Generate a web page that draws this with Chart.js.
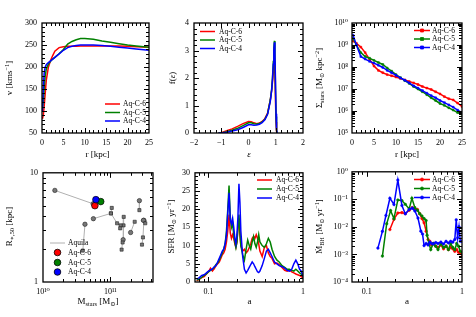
<!DOCTYPE html>
<html>
<head>
<meta charset="utf-8">
<script src="https://cdn.jsdelivr.net/npm/chart.js@4.4.1/dist/chart.umd.min.js"></script>
<style>
  body { margin: 0; background: #fff; width: 476px; height: 317px; position: relative; overflow: hidden; }
  canvas { position: absolute; }
</style>
</head>
<body>
<canvas id="p1"></canvas><canvas id="p2"></canvas><canvas id="p3"></canvas>
<canvas id="p4"></canvas><canvas id="p5"></canvas><canvas id="p6"></canvas>
<script>
// ---- colours / labels
const RED = '#ff0000', GREEN = '#008000', BLUE = '#0000ff';
const runs = ['Aq-C-6', 'Aq-C-5', 'Aq-C-4'];

// ---- panel 1: rotation curve v(r)
const rotR  = [0.1,0.3,0.5,0.75,1,1.5,2,2.5,3,4,5,6,7,8,9,10,12,14,16,18,20,22,25];
const rotC6 = [82,90,110,140,170,200,215,226,236,244,246,247,247,247,247.5,248,248,248,248,247.5,247,246,245];
const rotC5 = [105,120,150,180,195,207,213,218,222,230,240,252,258,262,264.5,265,263,259,256,253,250,248,245];
const rotC4 = [100,150,185,200,205,210,214,218,222,230,238,244,247,249,250,250,250,249,247,245,243,241,238];

// ---- panel 2: circularity distribution f(eps)
const circEps = [-1.1,-1,-0.8,-0.6,-0.4,-0.2,0,0.1,0.2,0.3,0.4,0.5,0.6,0.7,0.8,0.85,0.88,0.91,0.93,0.95,0.97,0.99,1.01,1.03,1.05];
const circC6 = [0,0.01,0.08,0.15,0.24,0.34,0.42,0.41,0.37,0.34,0.36,0.42,0.52,0.72,1.2,1.55,1.85,2.2,2.5,2.6,2.2,1.2,0.4,0.05,0];
const circC5 = [0,0.005,0.05,0.1,0.17,0.27,0.37,0.37,0.34,0.33,0.35,0.4,0.5,0.7,1.2,1.6,2.0,2.6,3.1,3.35,2.8,1.6,0.6,0.1,0];
const circC4 = [0,0,0.03,0.07,0.12,0.2,0.3,0.3,0.28,0.29,0.32,0.38,0.48,0.68,1.15,1.55,1.95,2.5,3.0,3.3,2.9,1.9,0.7,0.1,0];

// ---- panel 3: stellar surface density
const sdR  = [0.25,1,2,3,4,5,6,7,8,9,10,11,12,13,14,15,16,17,18,19,20,21,22,23,24,25];
const sdC6 = [1.5e9,1.2e9,8e8,4.5e8,2.2e8,1.1e8,7e7,5.5e7,4.5e7,4e7,3.5e7,3e7,2.6e7,2.2e7,1.9e7,1.6e7,1.3e7,1.1e7,9.5e6,7.5e6,6e6,4.5e6,3.6e6,3.2e6,2.3e6,1.6e6];
const sdC5 = [2e9,1e9,4.5e8,3e8,2.5e8,2e8,1.6e8,1.3e8,9e7,6.5e7,4.5e7,3.3e7,2.4e7,1.8e7,1.3e7,1e7,7.5e6,5.5e6,4e6,3e6,2.2e6,1.8e6,1.4e6,1.1e6,8.5e5,7e5];
const sdC4 = [2.8e9,1e9,3e8,2.3e8,1.8e8,1.5e8,1.2e8,9.5e7,7e7,5.5e7,4.2e7,3.2e7,2.5e7,1.9e7,1.4e7,1.1e7,8.5e6,6.5e6,5e6,4e6,3e6,2.4e6,1.9e6,1.5e6,1.1e6,8.5e5];

// ---- panel 4: half-mass radius vs stellar mass (Aquila comparison, grouped)
const aqMass = [[1.5e10,5.55e10],[5.6e10,1.02e11,1.05e11],[1.02e11,1.26e11,1.42e11,1.4e11],[4.2e10,3.9e10],
                [1.58e11,1.57e11,1.55e11,1.52e11,1.47e11],[2.0e11,2.3e11],[2.7e11,2.7e11],[3.1e11,3.3e11],[3.15e11,3.05e11,2.95e11]];
const aqR50  = [[6.9,5.2],[3.8,4.25,4.77],[4.25,3.45,3.3,3.1],[3.38,1.94],
                [3.95,3.3,2.44,2.3,1.98],[2.84,3.56],[5.56,4.55],[3.67,3.45],[3.67,2.56,2.2]];
const aqShape = [['circle','circle'],['circle','rect','rect'],['rect','rect','rect','rect'],['circle','rect'],
                 ['rect','rect','circle','rect','rect'],['circle','rect'],['circle','rect'],['circle','rect'],['circle','rect','rect']];
const simMass = [5.9e10, 7.2e10, 6.1e10];
const simR50  = [5.0, 5.45, 5.68];

// ---- panel 5: star formation rate vs scale factor
const sfrA  = [0.075,0.08,0.085,0.09,0.095,0.1,0.105,0.11,0.115,0.12,0.125,0.13,0.135,0.14,0.145,0.15,0.155,0.16,0.165,0.17,0.175,0.18,0.185,0.19,0.195,0.2,0.205,0.21,0.215,0.22,0.23,0.24,0.25,0.26,0.27,0.28,0.29,0.3,0.31,0.32,0.33,0.34,0.35,0.37,0.39,0.41,0.43,0.45,0.47,0.5,0.53,0.56,0.6,0.64,0.68,0.72,0.76,0.8,0.84,0.88,0.92,0.96,1.0];
const sfrC6 = [0.3,0.8,1.2,1.5,2.2,2.8,3.8,3.0,3.6,4.5,5.0,5.5,6.5,7.5,8.0,9.0,11,14,18.5,13.5,12,13,12,10.5,9.5,11,15,17.5,13,10,8.5,9,8,8.5,9.5,10.5,12,12.5,12,13,12,10.5,8.5,7,9.5,10,8,7,6.5,5,5.2,4.8,4,3.2,3,3.3,2.8,2.5,2.2,2,1.8,1.5,1];
const sfrC5 = [0.5,0.8,1.3,1.8,2.2,2.8,3.2,3.5,4,4.8,5.2,6,7,8,9,10.5,14,20,26.5,18,15,16,13,11,9.5,11,15,18.5,14,10,7.5,6,9,11.5,10,9,11,12.5,10.5,9.5,11,13,11,10,9.5,10.5,12,11,9,7,6,5.5,4.5,4,3.5,3.5,3.2,3,3.5,3,2.5,2.2,1.5];
const sfrC4 = [0.8,1.2,1.8,2,2.5,3,3.3,3.6,4.2,4.5,5.5,6.5,7.5,8.5,9,10.5,13,19,24.5,17,16,17.5,15,12,10.5,13,18,27,22,14,7,3.5,2.5,3.2,4,4.8,5.5,5,4.2,3.5,2.8,2.6,3,4.5,6.5,8.5,9,8,7,5.5,5,4.5,4.2,3.8,3.2,3,3.5,5,6,5,3.5,3,1.5];

// ---- panel 6: black hole accretion rate
const bhA6 = [0.175,0.193,0.212,0.234,0.254,0.279,0.3,0.32,0.34,0.36,0.38,0.4,0.42,0.44,0.46,0.48,0.5,0.53,0.56,0.6,0.64,0.68,0.72,0.76,0.8,0.84,0.88,0.92,0.96,1.0];
const bhC6 = [0.008,0.019,0.032,0.033,0.03,0.04,0.05,0.045,0.043,0.03,0.02,0.014,0.007,0.0035,0.003,0.0022,0.0025,0.002,0.0018,0.0022,0.0016,0.002,0.0015,0.0018,0.0016,0.0013,0.0015,0.0012,0.0011,0.001];
const bhA5 = [0.146,0.162,0.178,0.193,0.212,0.234,0.254,0.279,0.298,0.32,0.34,0.36,0.38,0.4,0.42,0.43,0.45,0.47,0.5,0.53,0.56,0.6,0.64,0.68,0.72,0.76,0.8,0.84,0.88,0.92,0.96,1.0];
const bhC5 = [0.00087,0.013,0.039,0.02,0.095,0.09,0.066,0.045,0.11,0.05,0.04,0.03,0.025,0.02,0.017,0.005,0.0025,0.0015,0.0025,0.002,0.0015,0.0025,0.0018,0.002,0.0015,0.0025,0.0018,0.0015,0.0025,0.002,0.0013,0.0012];
const bhA4 = [0.131,0.146,0.159,0.175,0.193,0.212,0.234,0.254,0.279,0.3,0.32,0.345,0.37,0.385,0.4,0.42,0.44,0.46,0.48,0.5,0.53,0.56,0.6,0.64,0.68,0.72,0.76,0.8,0.84,0.87,0.9,0.93,0.96,1.0];
const bhC4 = [0.0017,0.0069,0.026,0.11,0.065,0.5,0.06,0.03,0.043,0.048,0.038,0.021,0.007,0.0055,0.0021,0.0025,0.0022,0.0028,0.0025,0.0024,0.0027,0.0025,0.0028,0.0024,0.003,0.0026,0.003,0.0028,0.0035,0.018,0.004,0.01,0.003,0.003];

// ---------------------------------------------------------------
const FONT = '"Liberation Serif", "DejaVu Serif", serif';
const panels = {};

const range = (a, b, s) => { let r = []; for (let v = a; v <= b + 1e-9; v += s) r.push(+v.toFixed(6)); return r; };
const logMinor = (e0, e1) => { let r = []; for (let e = e0; e < e1; e++) for (let k = 2; k < 10; k++) r.push(k * Math.pow(10, e)); return r; };
const decades = (e0, e1) => range(e0, e1, 1).map(e => Math.pow(10, e));
const supStr = s => String(s).replace(/[-0-9]/g, c => '⁻⁰¹²³⁴⁵⁶⁷⁸⁹'['-0123456789'.indexOf(c)]);
const pow10 = v => '10' + supStr(Math.round(Math.log10(v)));
const minus = v => v < 0 ? '−' + Math.abs(v) : '' + v;

function rich(ctx, segs, x, y, size, rot) {
  ctx.save();
  ctx.translate(x, y);
  if (rot) ctx.rotate(rot);
  const fontOf = m => (m === 'it' ? 'italic ' + size : (m ? size * 0.7 : size)) + 'px ' + FONT;
  let w = 0;
  const parts = segs.map(([t, m]) => {
    ctx.font = fontOf(m);
    const pw = ctx.measureText(t).width;
    w += pw;
    return { t, m, pw };
  });
  let cx = -w / 2;
  ctx.textBaseline = 'middle';
  ctx.fillStyle = '#000';
  for (const p of parts) {
    ctx.font = fontOf(p.m);
    const dy = p.m === 'sub' ? size * 0.28 : p.m === 'sup' ? -size * 0.33 : 0;
    ctx.fillText(p.t, cx, dy);
    cx += p.pw;
  }
  ctx.restore();
}

function marker(ctx, style, x, y, r, fill, edge) {
  ctx.beginPath();
  if (style === 'rect') ctx.rect(x - r, y - r, 2 * r, 2 * r);
  else ctx.arc(x, y, r, 0, Math.PI * 2);
  ctx.fillStyle = fill; ctx.fill();
  ctx.lineWidth = 0.8; ctx.strokeStyle = edge; ctx.stroke();
}

// frame with inward ticks on all sides, titles and an inside legend
const deco = {
  id: 'deco',
  afterDraw(chart) {
    const d = panels[chart.canvas.id];
    const { ctx, chartArea: a, scales } = chart;
    const bx = d.box.x, by = d.box.y;
    ctx.save();
    ctx.strokeStyle = '#000';
    ctx.lineWidth = 1.3;
    ctx.strokeRect(a.left, a.top, a.right - a.left, a.bottom - a.top);
    ctx.fillStyle = '#000';
    const tk = (vals, len, axis) => {
      vals.forEach(v => {
        const p = Math.round(scales[axis].getPixelForValue(v));
        if (axis === 'x') {
          if (p < a.left + 1 || p > a.right - 1) return;
          ctx.fillRect(p, a.bottom - len, 1, len);
          ctx.fillRect(p, a.top, 1, len);
        } else {
          if (p < a.top + 1 || p > a.bottom - 1) return;
          ctx.fillRect(a.left, p, len, 1);
          ctx.fillRect(a.right - len, p, len, 1);
        }
      });
    };
    tk(d.xMajor, 5, 'x'); tk(d.xMinor, 3, 'x');
    tk(d.yMajor, 5, 'y'); tk(d.yMinor, 3, 'y');
    ctx.restore();

    rich(ctx, d.xTitle, d.xTitlePos[0] - bx, d.xTitlePos[1] - by, 9, 0);
    rich(ctx, d.yTitle, d.yTitlePos[0] - bx, d.yTitlePos[1] - by, 9, -Math.PI / 2);

    const L = d.legend;
    ctx.save();
    ctx.font = '7.5px ' + FONT;
    ctx.textBaseline = 'middle';
    L.items.forEach((idx, i) => {
      const ds = chart.data.datasets[idx];
      const y = L.ys[i] - by, x0 = L.x0 - bx, x1 = L.x1 - bx;
      if (ds.legendKind !== 'dot') {
        ctx.beginPath(); ctx.moveTo(x0, y); ctx.lineTo(x1, y);
        ctx.strokeStyle = ds.borderColor; ctx.lineWidth = ds.legendWidth || ds.borderWidth; ctx.stroke();
      }
      if (ds.legendKind === 'mark') {
        marker(ctx, ds.pointStyle, (x0 + x1) / 2, y, 1.5, ds.borderColor, ds.borderColor);
      }
      if (ds.legendKind === 'dot') {
        marker(ctx, 'circle', (x0 + x1) / 2, y, 3.3, ds.backgroundColor, '#000');
      }
      ctx.fillStyle = '#000';
      ctx.fillText(ds.label, L.tx - bx, y + 0.5);
    });
    ctx.restore();
  }
};

function axisOpt(ax, fitSide, size) {
  return {
    type: ax.type, min: ax.min, max: ax.max,
    grid: { display: false, drawTicks: false },
    border: { display: false },
    ticks: {
      font: { family: FONT, size: 8 }, color: '#000', padding: ax.pad,
      autoSkip: false, maxRotation: 0, minRotation: 0,
      callback: v => ax.fmt(v)
    },
    afterBuildTicks: s => { s.ticks = ax.labels.map(v => ({ value: v })); },
    afterFit: s => { if (fitSide === 'x') s.height = size; else s.width = size; }
  };
}

function makePanel(id, box, area, cfg) {
  const cv = document.getElementById(id);
  cv.width = box.w; cv.height = box.h;
  cv.style.left = box.x + 'px'; cv.style.top = box.y + 'px';
  cv.style.width = box.w + 'px'; cv.style.height = box.h + 'px';
  cfg.deco.box = box;
  cfg.deco.xMajor = cfg.x.labels; cfg.deco.xMinor = cfg.x.minor;
  cfg.deco.yMajor = cfg.y.labels; cfg.deco.yMinor = cfg.y.minor;
  panels[id] = cfg.deco;
  new Chart(cv, {
    type: 'line',
    data: { datasets: cfg.datasets },
    options: {
      responsive: false, animation: false, devicePixelRatio: 1,
      layout: { padding: { left: 0, top: area.t - box.y, right: box.x + box.w - area.r, bottom: 0 } },
      plugins: { legend: { display: false }, tooltip: { enabled: false } },
      scales: {
        x: axisOpt(cfg.x, 'x', box.y + box.h - area.b),
        y: axisOpt(cfg.y, 'y', area.l - box.x)
      }
    },
    plugins: [deco]
  });
}

const xy = (xs, ys) => xs.map((x, i) => ({ x: x, y: ys[i] }));
function line(label, xs, ys, color, order, extra) {
  return Object.assign({
    label: label, data: xy(xs, ys), borderColor: color, backgroundColor: color,
    borderWidth: 1.5, pointRadius: 0, tension: 0, order: order, legendKind: 'line'
  }, extra || {});
}
const marks = style => ({ pointRadius: 1.3, pointStyle: style, pointBorderWidth: 0.5, legendKind: 'mark' });

const col1 = { x: 0, w: 158 }, col2 = { x: 158, w: 152 }, col3 = { x: 312, w: 164 };
const row1 = { y: 0, h: 163 }, row2 = { y: 163, h: 154 };
const box = (c, r) => ({ x: c.x, w: c.w, y: r.y, h: r.h });

// panel 1
makePanel('p1', box(col1, row1), { l: 42, t: 23, r: 153, b: 133 }, {
  x: { type: 'linear', min: 0, max: 25, labels: range(0, 25, 5), minor: range(0, 25, 1), fmt: minus, pad: 5 },
  y: { type: 'linear', min: 50, max: 300, labels: range(50, 300, 50), minor: range(50, 300, 10), fmt: minus, pad: 5 },
  datasets: [line(runs[0], rotR, rotC6, RED, 2), line(runs[1], rotR, rotC5, GREEN, 1), line(runs[2], rotR, rotC4, BLUE, 0)],
  deco: {
    xTitle: [['r [kpc]']], xTitlePos: [97.5, 155],
    yTitle: [['v [kms'], ['−1', 'sup'], [']']], yTitlePos: [10, 78],
    legend: { items: [0, 1, 2], x0: 105, x1: 120, tx: 123, ys: [104, 112.5, 121] }
  }
});

// panel 2
makePanel('p2', box(col2, row1), { l: 194, t: 23, r: 304, b: 133 }, {
  x: { type: 'linear', min: -2, max: 2, labels: range(-2, 2, 1), minor: range(-2, 2, 0.2), fmt: minus, pad: 5 },
  y: { type: 'linear', min: 0, max: 4, labels: range(0, 4, 1), minor: range(0, 4, 0.2), fmt: minus, pad: 5 },
  datasets: [line(runs[0], circEps, circC6, RED, 2), line(runs[1], circEps, circC5, GREEN, 1), line(runs[2], circEps, circC4, BLUE, 0)],
  deco: {
    xTitle: [['ε', 'it']], xTitlePos: [249, 155],
    yTitle: [['f('], ['ε', 'it'], [')']], yTitlePos: [173, 78],
    legend: { items: [0, 1, 2], x0: 200, x1: 215, tx: 219, ys: [31.5, 40, 48.5] }
  }
});

// panel 3
makePanel('p3', box(col3, row1), { l: 352, t: 23, r: 462, b: 133 }, {
  x: { type: 'linear', min: 0, max: 25, labels: range(0, 25, 5), minor: range(0, 25, 1), fmt: minus, pad: 5 },
  y: { type: 'logarithmic', min: 1e5, max: 1e10, labels: decades(5, 10), minor: logMinor(5, 10), fmt: pow10, pad: 4 },
  datasets: [line(runs[0], sdR, sdC6, RED, 2, marks('rect')), line(runs[1], sdR, sdC5, GREEN, 1, marks('rect')), line(runs[2], sdR, sdC4, BLUE, 0, marks('rect'))],
  deco: {
    xTitle: [['r [kpc]']], xTitlePos: [407, 155],
    yTitle: [['Σ'], ['stars', 'sub'], [' [M'], ['⊙', 'sub'], [' kpc'], ['−2', 'sup'], [']']], yTitlePos: [320, 78],
    legend: { items: [0, 1, 2], x0: 414, x1: 430, tx: 432, ys: [30.5, 39, 47.5] }
  }
});

// panel 4
const aqSets = aqMass.map((xs, g) => ({
  label: g === 0 ? 'Aquila' : '', data: xy(xs, aqR50[g]), borderColor: '#b0b0b0', borderWidth: 1,
  pointStyle: aqShape[g], pointRadius: 2.2, pointBackgroundColor: '#777777', pointBorderColor: '#222222',
  pointBorderWidth: 0.6, tension: 0, order: 5, legendKind: 'line', legendWidth: 1
}));
const simSets = [RED, GREEN, BLUE].map((c, i) => ({
  label: runs[i], data: [{ x: simMass[i], y: simR50[i] }], showLine: false, borderColor: '#000', backgroundColor: c,
  pointRadius: 3.3, pointBackgroundColor: c, pointBorderColor: '#000', pointBorderWidth: 0.7, order: 2 - i, legendKind: 'dot'
}));
makePanel('p4', box(col1, row2), { l: 43, t: 171, r: 153, b: 282 }, {
  x: { type: 'logarithmic', min: 1e10, max: 4.3e11, labels: [1e10, 1e11], minor: logMinor(10, 12), fmt: pow10, pad: 5 },
  y: { type: 'logarithmic', min: 1, max: 10, labels: [1, 10], minor: logMinor(0, 1), fmt: v => '' + v, pad: 5 },
  datasets: aqSets.concat(simSets),
  deco: {
    xTitle: [['M'], ['stars', 'sub'], [' [M'], ['⊙', 'sub'], [']']], xTitlePos: [98, 302],
    yTitle: [['R'], ['∗,50', 'sub'], [' [kpc]']], yTitlePos: [10, 226.5],
    legend: { items: [0, aqSets.length, aqSets.length + 1, aqSets.length + 2], x0: 50, x1: 65, tx: 68, ys: [243, 252.5, 262.5, 272] }
  }
});

// panel 5
makePanel('p5', box(col2, row2), { l: 195, t: 171, r: 304, b: 282 }, {
  x: { type: 'logarithmic', min: 0.072, max: 1, labels: [0.1, 1], minor: [0.08, 0.09].concat(logMinor(-1, 0)), fmt: v => '' + v, pad: 5 },
  y: { type: 'linear', min: 0, max: 30, labels: range(0, 30, 5), minor: range(0, 30, 1), fmt: minus, pad: 5 },
  datasets: [line(runs[0], sfrA, sfrC6, RED, 2), line(runs[1], sfrA, sfrC5, GREEN, 1), line(runs[2], sfrA, sfrC4, BLUE, 0)],
  deco: {
    xTitle: [['a']], xTitlePos: [249.5, 302],
    yTitle: [['SFR [M'], ['⊙', 'sub'], [' yr'], ['−1', 'sup'], [']']], yTitlePos: [172, 226.5],
    legend: { items: [0, 1, 2], x0: 257, x1: 272, tx: 276, ys: [180, 189, 198] }
  }
});

// panel 6
makePanel('p6', box(col3, row2), { l: 352, t: 171, r: 462, b: 282 }, {
  x: { type: 'logarithmic', min: 0.07, max: 1, labels: [0.1, 1], minor: [0.08, 0.09].concat(logMinor(-1, 0)), fmt: v => '' + v, pad: 5 },
  y: { type: 'logarithmic', min: 1e-4, max: 1, labels: decades(-4, 0), minor: logMinor(-4, 0), fmt: pow10, pad: 4 },
  datasets: [line(runs[0], bhA6, bhC6, RED, 2, marks('circle')), line(runs[1], bhA5, bhC5, GREEN, 1, marks('circle')), line(runs[2], bhA4, bhC4, BLUE, 0, marks('circle'))],
  deco: {
    xTitle: [['a']], xTitlePos: [407, 302],
    yTitle: [['Ṁ'], ['BH', 'sub'], [' [M'], ['⊙', 'sub'], [' yr'], ['−1', 'sup'], [']']], yTitlePos: [320, 226.5],
    legend: { items: [0, 1, 2], x0: 414, x1: 430, tx: 432, ys: [179.5, 188.5, 197.5] }
  }
});
</script>
</body>
</html>
